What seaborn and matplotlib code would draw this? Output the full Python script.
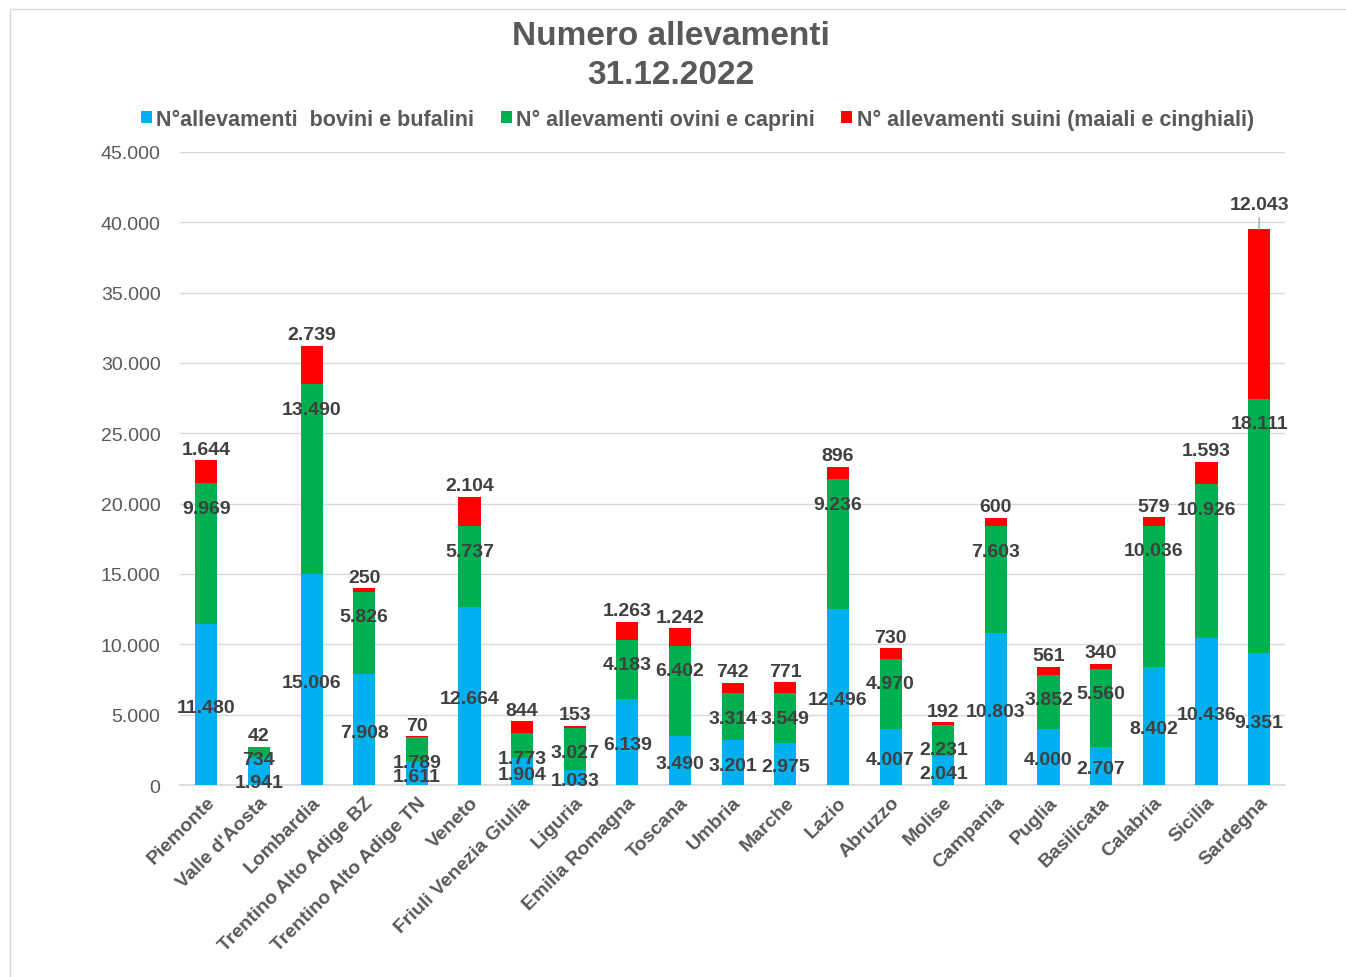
import pandas as pd
import matplotlib.pyplot as plt
import seaborn as sns
from matplotlib.patches import Patch, Rectangle

# -----------------------------------
# Data (N° allevamenti al 31.12.2022)
# -----------------------------------
regions = ["Piemonte", "Valle d'Aosta", "Lombardia", "Trentino Alto Adige BZ",
           "Trentino Alto Adige TN", "Veneto", "Friuli Venezia Giulia", "Liguria",
           "Emilia Romagna", "Toscana", "Umbria", "Marche", "Lazio", "Abruzzo",
           "Molise", "Campania", "Puglia", "Basilicata", "Calabria", "Sicilia",
           "Sardegna"]

bovini = [11480, 1941, 15006, 7908, 1611, 12664, 1904, 1033, 6139, 3490, 3201,
          2975, 12496, 4007, 2041, 10803, 4000, 2707, 8402, 10436, 9351]
ovini = [9969, 734, 13490, 5826, 1789, 5737, 1773, 3027, 4183, 6402, 3314,
         3549, 9236, 4970, 2231, 7603, 3852, 5560, 10036, 10926, 18111]
suini = [1644, 42, 2739, 250, 70, 2104, 844, 153, 1263, 1242, 742,
         771, 896, 730, 192, 600, 561, 340, 579, 1593, 12043]

series_names = ["N°allevamenti  bovini e bufalini",
                "N° allevamenti ovini e caprini",
                "N° allevamenti suini (maiali e cinghiali)"]
colors = ["#00B0F0", "#00B050", "#FF0000"]

df = pd.DataFrame({"Regione": regions, "bovini": bovini, "ovini": ovini, "suini": suini})
df["lvl1"] = df["bovini"]
df["lvl2"] = df["bovini"] + df["ovini"]
df["lvl3"] = df["lvl2"] + df["suini"]

# -----------------------------------
# Style
# -----------------------------------
sns.set_theme(style="white")
plt.rcParams["font.family"] = ["Liberation Sans", "DejaVu Sans"]

fig = plt.figure(figsize=(13.46, 9.78), dpi=100)
ax = fig.add_axes([0.1337, 0.1963, 0.8213, 0.6473])

# stacked bars: draw cumulative totals back to front
for col, c in zip(["lvl3", "lvl2", "lvl1"], colors[::-1]):
    sns.barplot(data=df, x="Regione", y=col, order=regions, color=c,
                width=0.42, saturation=1, linewidth=0, ax=ax, zorder=3)

ax.set_ylim(0, 45000)
ax.set_xlim(-0.5, len(regions) - 0.5)
ax.set_yticks(range(0, 45001, 5000))
ax.set_yticklabels([f"{v:,}".replace(",", ".") for v in range(0, 45001, 5000)])
ax.grid(axis="y", color="#D9D9D9", linewidth=1, zorder=0)
ax.set_axisbelow(True)
for s in ["top", "right", "left"]:
    ax.spines[s].set_visible(False)
ax.spines["bottom"].set_color("#D9D9D9")
ax.set_xlabel("")
ax.set_ylabel("")
ax.tick_params(axis="y", length=0, pad=14, labelsize=14, labelcolor="#595959")
ax.tick_params(axis="x", length=0, pad=6, labelsize=14, labelcolor="#595959")
plt.setp(ax.get_xticklabels(), rotation=45, ha="right", rotation_mode="anchor",
         fontweight="bold")


def fmt(v):
    return f"{v:,}".replace(",", ".")


# -----------------------------------
# Data labels
# -----------------------------------
lab = dict(ha="center", va="center", fontsize=14, fontweight="bold", color="#404040",
           textcoords="offset points", zorder=5)
for i, r in df.iterrows():
    small = r["ovini"] < 1000
    ax.annotate(fmt(r["bovini"]), (i, r["lvl1"] / 2),
                xytext=(0, -8 if small else -2), **lab)
    ax.annotate(fmt(r["ovini"]), (i, r["lvl2"]),
                xytext=(0, -9 if small else -18), **lab)
    if r["lvl3"] == df["lvl3"].max():
        ax.annotate(fmt(r["suini"]), (i, r["lvl3"]), xytext=(0, 18),
                    arrowprops=dict(arrowstyle="-", color="#A6A6A6", lw=1,
                                    shrinkA=1, shrinkB=0), **lab)
    else:
        ax.annotate(fmt(r["suini"]), (i, r["lvl3"]), xytext=(0, 8), **lab)

# -----------------------------------
# Title and legend
# -----------------------------------
fig.text(0.4985, 0.9425, "Numero allevamenti\n31.12.2022", ha="center", va="center",
         fontsize=24, fontweight="bold", color="#595959", linespacing=1.35)

handles = [Patch(facecolor=c, edgecolor="none") for c in colors]
fig.legend(handles, series_names, loc="center", bbox_to_anchor=(0.518, 0.877),
           ncol=3, frameon=False, handlelength=0.5, handleheight=0.5,
           handletextpad=0.2, columnspacing=1.25,
           prop={"size": 15.5, "weight": "bold"}, labelcolor="#595959")

# chart border
fig.patches.append(Rectangle((10 / 1346, -0.02), 1.0, 1 - 10 / 978 + 0.02,
                             transform=fig.transFigure, fill=False,
                             edgecolor="#D9D9D9", linewidth=1))

fig.savefig("out.png", dpi=100)
plt.close()
